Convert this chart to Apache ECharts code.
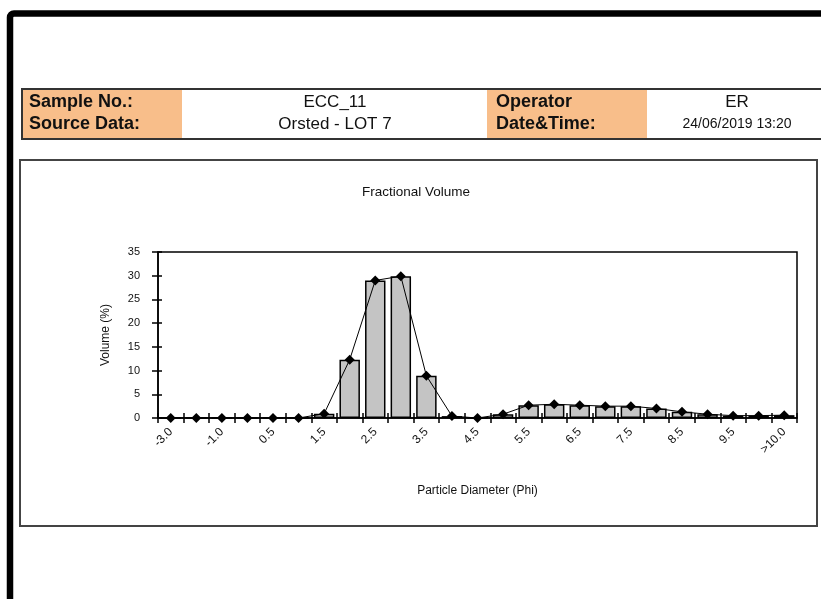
<!DOCTYPE html>
<html>
<head>
<meta charset="utf-8">
<script src="https://cdn.jsdelivr.net/npm/echarts@6/dist/echarts.min.js"></script>
<style>html,body{margin:0;padding:0;background:#fff;}#c{width:821px;height:599px;}</style>
</head>
<body>
<div id="c"></div>
<script>
const categories = ['-3.0','-2.0','-1.0','0.0','0.5','1.0','1.5','2.0','2.5','3.0','3.5','4.0','4.5','5.0','5.5','6.0','6.5','7.0','7.5','8.0','8.5','9.0','9.5','10.0','>10.0'];
const volume = [0,0,0,0,0,0,0.9,12.3,29.0,29.9,8.9,0.4,0,0.8,2.7,2.9,2.7,2.5,2.5,2.0,1.3,0.8,0.5,0.5,0.6];
const yTicks = {min:0, max:35, interval:5};
const headerLabels = ['Sample No.:','Source Data:','Operator','Date&Time:'];
const headerValues = ['ECC_11','Orsted - LOT 7','ER','24/06/2019 13:20'];
const chartTitle = 'Fractional Volume';
const xName = 'Particle Diameter (Phi)';
const yName = 'Volume (%)';

const FONT = '"Liberation Sans", Arial, sans-serif';
const chart = echarts.init(document.getElementById('c'), null, {renderer:'canvas'});

const txt = (text, x, y, opt) => ({
  type:'text', x:x, y:y, z:20,
  style: Object.assign({text:text, fill:'#111', font:'18px ' + FONT, textVerticalAlign:'middle', textAlign:'left'}, opt||{})
});

const option = {
  backgroundColor:'#fff',
  animation:false,
  graphic:[
    {type:'rect', z:1, shape:{x:10, y:13.5, width:900, height:700, r:4}, style:{fill:'none', stroke:'#000', lineWidth:6.5}},
    {type:'rect', z:1, shape:{x:23, y:90, width:159, height:48}, style:{fill:'#f8be8a'}},
    {type:'rect', z:1, shape:{x:487, y:90, width:160, height:48}, style:{fill:'#f8be8a'}},
    {type:'rect', z:2, shape:{x:22, y:89, width:830, height:50}, style:{fill:'none', stroke:'#333', lineWidth:2}},
    {type:'rect', z:2, shape:{x:20, y:160, width:797, height:366}, style:{fill:'none', stroke:'#444', lineWidth:2}},
    txt(headerLabels[0], 29, 102, {font:'bold 18px ' + FONT}),
    txt(headerLabels[1], 29, 124, {font:'bold 18px ' + FONT}),
    txt(headerLabels[2], 496, 102, {font:'bold 18px ' + FONT}),
    txt(headerLabels[3], 496, 124, {font:'bold 18px ' + FONT}),
    txt(headerValues[0], 335, 102, {font:'17px ' + FONT, textAlign:'center'}),
    txt(headerValues[1], 335, 124, {font:'17px ' + FONT, textAlign:'center'}),
    txt(headerValues[2], 737, 102, {font:'17px ' + FONT, textAlign:'center'}),
    txt(headerValues[3], 737, 124, {font:'14px ' + FONT, textAlign:'center'}),
    txt(chartTitle, 416, 192, {font:'13.5px ' + FONT, textAlign:'center'})
  ],
  grid:{left:158, right:24, top:252, bottom:181, show:true, borderColor:'#000', borderWidth:1.5, backgroundColor:'transparent'},
  xAxis:[
    {type:'category', data:categories, boundaryGap:true,
     name:xName, nameLocation:'middle', nameGap:67,
     nameTextStyle:{fontFamily:FONT, fontSize:12, color:'#111'},
     axisLine:{lineStyle:{color:'#000', width:1.5}},
     axisTick:{show:false},
     axisLabel:{interval:1, rotate:45, margin:12, fontFamily:FONT, fontSize:12, color:'#111'},
     splitLine:{show:false}},
    {type:'category', data:categories, boundaryGap:true, position:'bottom', offset:-5,
     axisLine:{show:false},
     axisTick:{show:true, interval:0, length:10, lineStyle:{color:'#000', width:1.5}},
     axisLabel:{show:false}, splitLine:{show:false}}
  ],
  yAxis:[
    {type:'value', min:yTicks.min, max:yTicks.max, interval:yTicks.interval,
     name:yName, nameLocation:'middle', nameGap:46,
     nameTextStyle:{fontFamily:FONT, fontSize:12, color:'#111'},
     axisLine:{show:true, lineStyle:{color:'#000', width:1.5}},
     axisTick:{show:false},
     axisLabel:{margin:18, fontFamily:FONT, fontSize:11, color:'#111'},
     splitLine:{show:false}},
    {type:'value', min:yTicks.min, max:yTicks.max, interval:yTicks.interval, position:'left', offset:-4,
     axisLine:{show:false},
     axisTick:{show:true, length:10, lineStyle:{color:'#000', width:1.5}},
     axisLabel:{show:false}, splitLine:{show:false}}
  ],
  series:[
    {type:'bar', data:volume, xAxisIndex:0, yAxisIndex:0, barCategoryGap:'20%',
     itemStyle:{color:'#c4c4c4', borderColor:'#000', borderWidth:1.5}, z:2},
    {type:'line', data:volume, xAxisIndex:0, yAxisIndex:0, symbol:'diamond', symbolSize:10,
     itemStyle:{color:'#000'}, lineStyle:{color:'#000', width:1}, z:3}
  ]
};
chart.setOption(option);
</script>
</body>
</html>
